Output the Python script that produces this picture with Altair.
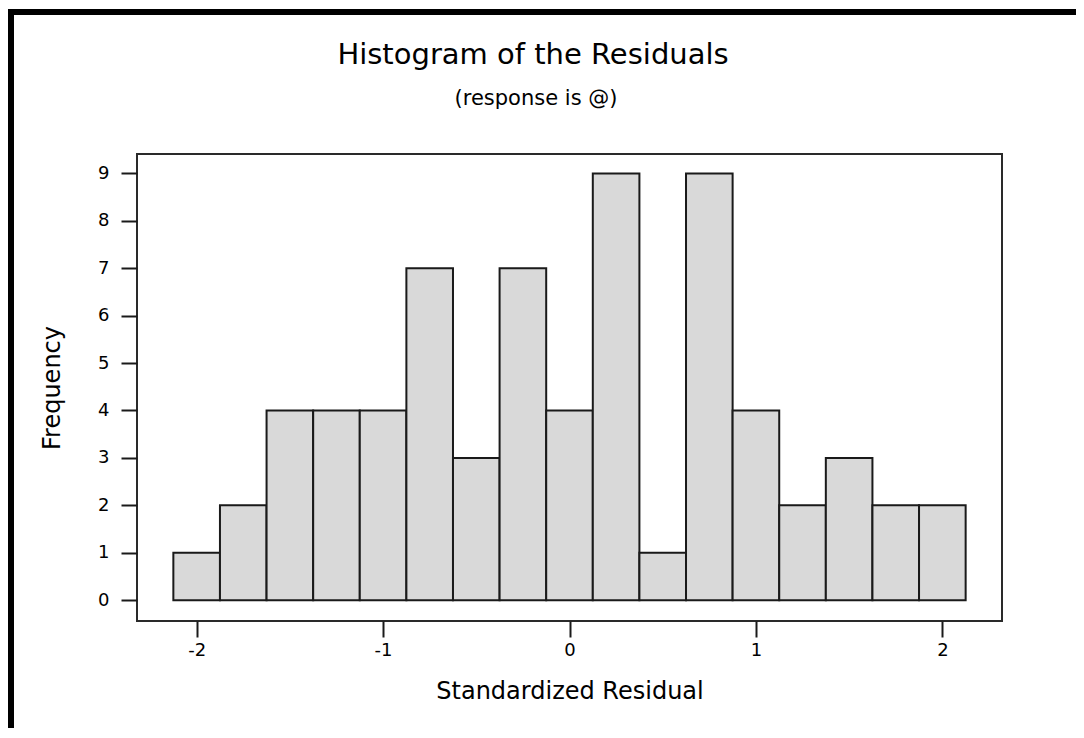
import altair as alt
import pandas as pd

# ---- data ----
bin_centers = [-2.0, -1.75, -1.5, -1.25, -1.0, -0.75, -0.5, -0.25, 0.0,
               0.25, 0.5, 0.75, 1.0, 1.25, 1.5, 1.75, 2.0]
frequencies = [1, 2, 4, 4, 4, 7, 3, 7, 4, 9, 1, 9, 4, 2, 3, 2, 2]
bin_width = 0.25
x_ticks = [-2, -1, 0, 1, 2]
y_ticks = [0, 1, 2, 3, 4, 5, 6, 7, 8, 9]
title_text = "Histogram of the Residuals"
subtitle_text = "(response is @)"
x_title = "Standardized Residual"
y_title = "Frequency"

df = pd.DataFrame({"center": bin_centers, "freq": frequencies})
df["start"] = df["center"] - bin_width / 2
df["end"] = df["center"] + bin_width / 2

FONT = "DejaVu Sans"
W, H = 865, 467
PL, PT = 129, 146
TOTAL_W, TOTAL_H = 1068, 720

xscale = alt.Scale(domain=[-2.32, 2.32], nice=False, zero=False)
yscale = alt.Scale(domain=[-0.44, 9.41], nice=False, zero=False)

bars = alt.Chart(df).mark_bar(fill="#d9d9d9", stroke="#1a1a1a", strokeWidth=2).encode(
    x=alt.X("start:Q", scale=xscale,
            axis=alt.Axis(values=x_ticks, title=x_title, labelExpr="'' + datum.value",
                          labelPadding=4, titlePadding=20)),
    x2="end:Q",
    y=alt.Y("freq:Q", scale=yscale,
            axis=alt.Axis(values=y_ticks, title=y_title, labelExpr="'' + datum.value",
                          labelPadding=12, titlePadding=33)),
    y2=alt.datum(0),
)

one = pd.DataFrame({"k": [0]})

title = alt.Chart(pd.DataFrame({"t": [title_text]})).mark_text(
    font=FONT, fontSize=29, align="center", baseline="alphabetic", color="black"
).encode(text="t:N", x=alt.value(396), y=alt.value(-90))

subtitle = alt.Chart(pd.DataFrame({"t": [subtitle_text]})).mark_text(
    font=FONT, fontSize=21, align="center", baseline="alphabetic", color="black"
).encode(text="t:N", x=alt.value(399), y=alt.value(-49))

rule_top = alt.Chart(one).mark_rule(color="black", strokeWidth=6).encode(
    x=alt.value(-PL), x2=alt.value(TOTAL_W - PL), y=alt.value(-142))
rule_left = alt.Chart(one).mark_rule(color="black", strokeWidth=6).encode(
    x=alt.value(-126), y=alt.value(-145), y2=alt.value(TOTAL_H - PT))

chart = alt.layer(bars, title, subtitle, rule_top, rule_left).properties(
    width=W, height=H, autosize="none",
    padding={"left": PL, "top": PT, "right": TOTAL_W - PL - W, "bottom": TOTAL_H - PT - H},
    background="white",
).configure_view(stroke="#2a2a2a", strokeWidth=2).configure_axis(
    domain=False, grid=False, tickColor="#1a1a1a", tickWidth=2, tickSize=16,
    labelFont=FONT, labelFontSize=18, labelColor="black",
    titleFont=FONT, titleFontSize=24, titleFontWeight="normal", titleColor="black",
)

chart.save("out.html", embed_options={"renderer": "svg", "actions": False})
